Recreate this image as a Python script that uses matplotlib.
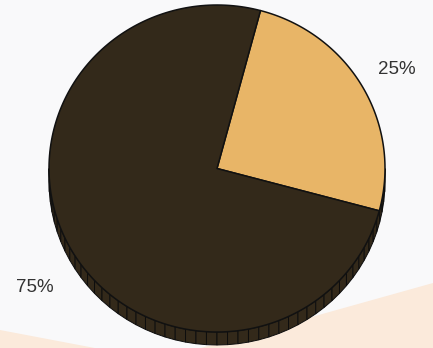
import matplotlib
matplotlib.use("Agg")
import matplotlib.pyplot as plt
from matplotlib.patches import Polygon
import numpy as np

labels = ['25%', '75%']
values = [25, 75]
colors = ['#E8B567', '#33291A']
side_colors = ['#33291A', '#33291A']

# layout (pixels)
cx, cy = 217, 168.5
rx, ry = 168, 163.5
depth = 13
start = 75  # degrees, slices go clockwise

fig = plt.figure(figsize=(4.33, 3.48), dpi=100)
fig.patch.set_facecolor('#F9F9FA')
ax = fig.add_axes([0, 0, 1, 1])
ax.set_xlim(0, 433)
ax.set_ylim(348, 0)
ax.axis('off')

# peach backdrop
ax.add_patch(Polygon([(0, 330), (158, 360), (433, 283), (433, 360), (0, 360)],
                     closed=True, facecolor='#FBEADB', edgecolor='none', zorder=0))

# slice angle ranges (clockwise from start)
bounds = start - np.concatenate([[0], np.cumsum(values)]) / sum(values) * 360


def slice_of(ang):
    for i in range(len(values)):
        lo, hi = bounds[i + 1], bounds[i]
        a = (ang - lo) % 360
        if a <= hi - lo:
            return i
    return len(values) - 1


def pt(a, dy=0):
    r = np.radians(a)
    return (cx + rx * np.cos(r), cy - ry * np.sin(r) + dy)


# side wall, front half only
step = 3.6
for a0 in np.arange(180, 360, step):
    a1 = a0 + step
    i = slice_of((a0 + a1) / 2)
    quad = [pt(a0), pt(a1), pt(a1, depth), pt(a0, depth)]
    ax.add_patch(Polygon(quad, closed=True, facecolor=side_colors[i],
                         edgecolor='#0d0d0d', lw=0.7, zorder=2))

# top faces
for i in range(len(values)):
    angs = np.linspace(bounds[i], bounds[i + 1], 200)
    pts = [(cx, cy)] + [pt(a) for a in angs]
    ax.add_patch(Polygon(pts, closed=True, facecolor=colors[i],
                         edgecolor='#111111', lw=1.1, joinstyle='round', zorder=3))

# labels
ax.text(397, 70, labels[0], fontsize=13.5, color='#333333', ha='center', va='center',
        family='Liberation Sans', zorder=4)
ax.text(35, 287, labels[1], fontsize=13.5, color='#333333', ha='center', va='center',
        family='Liberation Sans', zorder=4)

fig.savefig('out.png', dpi=100, facecolor=fig.get_facecolor())
